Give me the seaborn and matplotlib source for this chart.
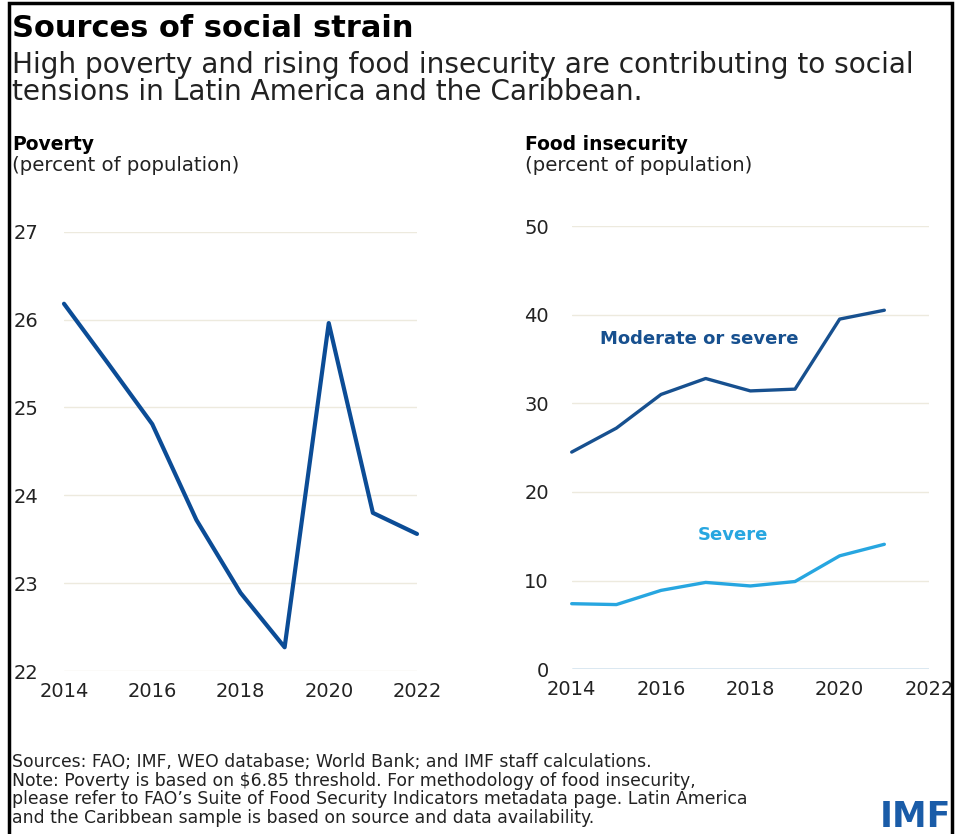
import matplotlib
matplotlib.use("Agg")
import matplotlib.pyplot as plt
import seaborn as sns
import pandas as pd
from matplotlib.patches import Rectangle

# Data
poverty_years = [2014, 2015, 2016, 2017, 2018, 2019, 2020, 2021, 2022]
poverty_pct = [26.18, 25.5, 24.81, 23.72, 22.89, 22.27, 25.96, 23.8, 23.56]

food_years = [2014, 2015, 2016, 2017, 2018, 2019, 2020, 2021]
moderate_or_severe = [24.5, 27.2, 31.0, 32.8, 31.4, 31.6, 39.5, 40.5]
severe = [7.4, 7.3, 8.9, 9.8, 9.4, 9.9, 12.8, 14.1]

poverty_yticks = [22, 23, 24, 25, 26, 27]
food_yticks = [0, 10, 20, 30, 40, 50]
xticks = [2014, 2016, 2018, 2020, 2022]

DARK_BLUE = "#0b4c96"
NAVY = "#17508f"
LIGHT_BLUE = "#27a6e0"
GRID = "#edeade"
TEXT = "#222222"

sns.set_theme(style="white")
plt.rcParams["font.family"] = ["DejaVu Sans"]

W, H = 956, 834
fig = plt.figure(figsize=(W / 100, H / 100), dpi=100)


def px_axes(x0, y0, x1, y1):
    """Axes from pixel box (top-left origin)."""
    return fig.add_axes([x0 / W, 1 - y1 / H, (x1 - x0) / W, (y1 - y0) / H])


def ftext(x, y, s, **kw):
    fig.text(x / W, 1 - y / H, s, **kw)


def style_axes(ax, yticks, pad):
    sns.despine(ax=ax, left=True, bottom=True)
    ax.set_xticks(xticks)
    ax.set_yticks(yticks)
    ax.set_xlim(2014, 2022)
    ax.set_ylim(yticks[0], yticks[-1])
    ax.grid(axis="y", color=GRID, linewidth=1.0)
    ax.grid(axis="x", visible=False)
    ax.tick_params(axis="y", length=0, pad=pad, labelsize=14, labelcolor=TEXT)
    ax.tick_params(axis="x", length=0, pad=8, labelsize=14, labelcolor=TEXT)
    ax.set_xlabel("")
    ax.set_ylabel("")
    if ax.get_legend() is not None:
        ax.get_legend().remove()


# Left panel: poverty
ax1 = px_axes(64, 231.7, 417, 671)
pov = pd.DataFrame({"year": poverty_years, "value": poverty_pct})
sns.lineplot(data=pov, x="year", y="value", ax=ax1, color=DARK_BLUE,
             linewidth=3.0, clip_on=False)
style_axes(ax1, poverty_yticks, 18.5)

# Right panel: food insecurity
ax2 = px_axes(571.7, 226, 929, 669.3)
food = pd.DataFrame({
    "year": food_years * 2,
    "value": moderate_or_severe + severe,
    "series": ["Moderate or severe"] * len(food_years) + ["Severe"] * len(food_years),
})
sns.lineplot(data=food, x="year", y="value", hue="series", ax=ax2,
             palette={"Moderate or severe": NAVY, "Severe": LIGHT_BLUE},
             linewidth=2.4, clip_on=False)
style_axes(ax2, food_yticks, 16.5)
ax2.axhline(0, color="#5c9fd6", linewidth=1.0, zorder=1)
ax2.text(2014.63, 37.25, "Moderate or severe", color=NAVY, fontsize=13,
         fontweight="bold", va="center", ha="left")
ax2.text(2017.61, 15.15, "Severe", color=LIGHT_BLUE, fontsize=13,
         fontweight="bold", va="center", ha="center")

# Titles
ftext(12, 37, "Sources of social strain", fontsize=22, fontweight="bold",
      color="black", va="baseline")
ftext(12, 73, "High poverty and rising food insecurity are contributing to social",
      fontsize=20.2, color=TEXT, va="baseline")
ftext(12, 100, "tensions in Latin America and the Caribbean.",
      fontsize=20.2, color=TEXT, va="baseline")

ftext(12, 150, "Poverty", fontsize=13.5, fontweight="bold", color="black", va="baseline")
ftext(12, 171, "(percent of population)", fontsize=14.2, color=TEXT, va="baseline")
ftext(525, 150, "Food insecurity", fontsize=13.5, fontweight="bold", color="black", va="baseline")
ftext(525, 171, "(percent of population)", fontsize=14.2, color=TEXT, va="baseline")

# Footnotes
notes = [
    "Sources: FAO; IMF, WEO database; World Bank; and IMF staff calculations.",
    "Note: Poverty is based on $6.85 threshold. For methodology of food insecurity,",
    "please refer to FAO\u2019s Suite of Food Security Indicators metadata page. Latin America",
    "and the Caribbean sample is based on source and data availability.",
]
for i, line in enumerate(notes):
    ftext(12, 767 + 18.7 * i, line, color=TEXT, va="baseline", fontsize=12.4)

ftext(951, 827, "IMF", fontsize=25, fontweight="bold", color="#1a5ca8",
      va="baseline", ha="right")

# Frame like the screenshot
fig.add_artist(Rectangle((9 / W, -0.01), (952 - 9) / W, 1 - 3 / H + 0.01,
                         transform=fig.transFigure, fill=False,
                         edgecolor="black", linewidth=2.5))

fig.savefig("out.png", dpi=100)
